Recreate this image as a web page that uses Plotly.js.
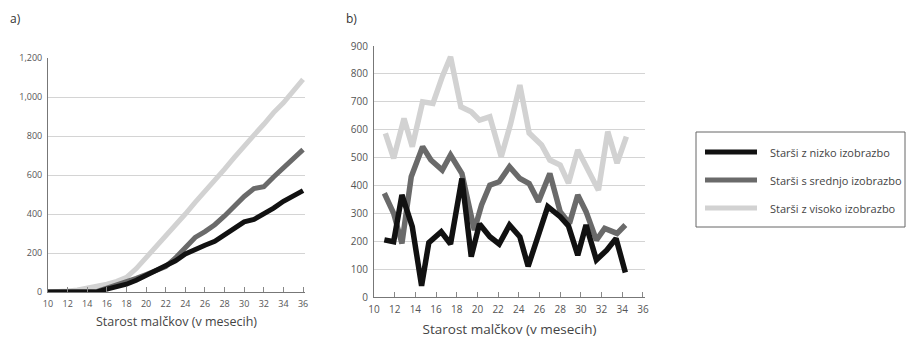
<!DOCTYPE html>
<html>
<head>
<meta charset="utf-8">
<script src="https://cdn.plot.ly/plotly-3.0.1.min.js"></script>
<style>
html,body{margin:0;padding:0;background:#fff;}
#chart{width:906px;height:338px;}
</style>
</head>
<body>
<div id="chart"></div>
<script>
// ---------- Data ----------
var seriesNames = ["Starši z nizko izobrazbo", "Starši s srednjo izobrazbo", "Starši z visoko izobrazbo"];
var seriesColors = ["#111111", "#6a6a6a", "#d2d2d2"];

// Panel a) cumulative
var monthsA = [10,11,12,13,14,15,16,17,18,19,20,21,22,23,24,25,26,27,28,29,30,31,32,33,34,35,36];
var lowA  = [0,0,0,0,0,0,15,28,40,60,85,105,130,160,195,220,240,260,295,330,360,372,400,430,465,490,520];
var midA  = [0,0,0,0,0,3,20,35,50,70,90,110,130,175,225,280,310,345,390,440,490,530,540,590,635,685,730];
var highA = [0,0,5,10,18,30,40,55,75,120,175,230,290,345,400,460,515,570,630,690,750,805,860,920,970,1030,1090];

// Panel b) per month
var lowBx  = [11,11.9,12.7,13.7,14.6,15.3,16.5,17.4,18.5,19.4,20.2,21.2,22.1,23.1,24.1,24.9,26.8,28,28.8,29.7,30.5,31.5,32.5,33.4,34.3];
var lowBy  = [205,198,366,252,40,195,234,190,425,145,262,216,190,258,216,110,324,288,255,150,258,133,168,210,88];
var midBx  = [11,11.9,12.7,13.6,14.7,15.5,16.6,17.4,18.5,19.7,20.4,21.2,22.1,23.1,24.1,25,25.9,27,28,28.9,29.7,30.5,31.5,32.3,33.5,34.3];
var midBy  = [372,300,192,431,539,491,455,509,443,240,330,401,413,467,425,407,342,443,306,264,366,306,204,246,228,258];
var highBx = [11.1,11.9,12.9,13.7,14.7,15.7,16.6,17.4,18.4,19.4,20.2,21.2,22.3,23.2,24.1,25,26.2,27,28,28.8,29.7,30.7,31.7,32.6,33.5,34.4];
var highBy = [587,497,640,539,700,694,790,861,682,664,634,646,503,620,760,588,545,491,473,408,527,455,383,593,480,575];

var xTicks = [10,12,14,16,18,20,22,24,26,28,30,32,34,36];
var xTitle = "Starost malčkov (v mesecih)";

// ---------- Geometry helpers (pixels -> paper) ----------
var W = 906, H = 338;
function px(x){ return x / W; }
function py(y){ return 1 - y / H; }

var LW = 5;
var traces = [
  {x: monthsA, y: highA, xaxis:'x',  yaxis:'y',  mode:'lines', line:{color:seriesColors[2], width:LW}, name:seriesNames[2], showlegend:false},
  {x: monthsA, y: midA,  xaxis:'x',  yaxis:'y',  mode:'lines', line:{color:seriesColors[1], width:LW}, name:seriesNames[1], showlegend:false},
  {x: monthsA, y: lowA,  xaxis:'x',  yaxis:'y',  mode:'lines', line:{color:seriesColors[0], width:LW}, name:seriesNames[0], showlegend:false},
  {x: highBx, y: highBy, xaxis:'x2', yaxis:'y2', mode:'lines', line:{color:seriesColors[2], width:5.5}, name:seriesNames[2], showlegend:false},
  {x: midBx,  y: midBy,  xaxis:'x2', yaxis:'y2', mode:'lines', line:{color:seriesColors[1], width:5.5}, name:seriesNames[1], showlegend:false},
  {x: lowBx,  y: lowBy,  xaxis:'x2', yaxis:'y2', mode:'lines', line:{color:seriesColors[0], width:5.5}, name:seriesNames[0], showlegend:false}
];

var FAM = "Open Sans, sans-serif";

function xAxis(domain, tickSize, titleSize, standoff){
  return {
    domain: domain, range:[10,36.2], tickvals:xTicks, ticktext:xTicks.map(String),
    showgrid:false, zeroline:false, showline:true, linecolor:"#777", linewidth:1,
    ticks:"inside", ticklen:5, tickcolor:"#888", ticklabelstandoff:3,
    tickfont:{family:FAM, size:tickSize, color:"#555"},
    title:{text:xTitle, font:{family:FAM, size:titleSize, color:"#444"}, standoff:standoff}, fixedrange:true
  };
}
function yAxis(domain, range, dtick, fmt, tickSize){
  return {
    domain: domain, range: range, dtick: dtick, tickformat: fmt,
    showgrid:true, gridcolor:"#d4d4d4", gridwidth:1, zeroline:false,
    showline:true, linecolor:"#777", linewidth:1, ticks:"", ticklabelstandoff:3,
    tickfont:{family:FAM, size:tickSize, color:"#555"},
    fixedrange:true
  };
}

var layout = {
  width: W, height: H,
  margin: {l:0, r:0, t:0, b:0},
  paper_bgcolor:"#fff", plot_bgcolor:"#fff",
  showlegend:false,
  xaxis:  Object.assign(xAxis([px(48), px(305)], 9, 12.5, 8), {anchor:'y'}),
  yaxis:  Object.assign(yAxis([py(292), py(58)], [0,1200], 200, ",d", 9), {anchor:'x'}),
  xaxis2: Object.assign(xAxis([px(374), px(645)], 10, 13.5, 9), {anchor:'y2'}),
  yaxis2: Object.assign(yAxis([py(297), py(46)], [0,900], 100, "d", 10), {anchor:'x2'}),
  shapes: [],
  annotations: [
    {text:"a)", xref:'paper', yref:'paper', x:px(8), y:py(18), xanchor:'left', yanchor:'middle', showarrow:false, font:{family:FAM, size:12, color:"#333"}},
    {text:"b)", xref:'paper', yref:'paper', x:px(344), y:py(18), xanchor:'left', yanchor:'middle', showarrow:false, font:{family:FAM, size:12, color:"#333"}}
  ]
};

// Legend (drawn box)
layout.shapes.push({type:'rect', xref:'paper', yref:'paper', x0:px(696), x1:px(905), y0:py(227), y1:py(132), line:{color:"#666", width:1}, fillcolor:"rgba(0,0,0,0)"});
var legendRows = [152, 180, 208];
for (var i=0;i<3;i++){
  layout.shapes.push({type:'line', xref:'paper', yref:'paper', x0:px(705), x1:px(757), y0:py(legendRows[i]), y1:py(legendRows[i]), line:{color:seriesColors[i], width:LW}});
  layout.annotations.push({text:seriesNames[i], xref:'paper', yref:'paper', x:px(768), y:py(legendRows[i]), xanchor:'left', yanchor:'middle', showarrow:false, font:{family:FAM, size:11, color:"#444"}});
}

Plotly.newPlot('chart', traces, layout, {displayModeBar:false, staticPlot:true});
</script>
</body>
</html>
